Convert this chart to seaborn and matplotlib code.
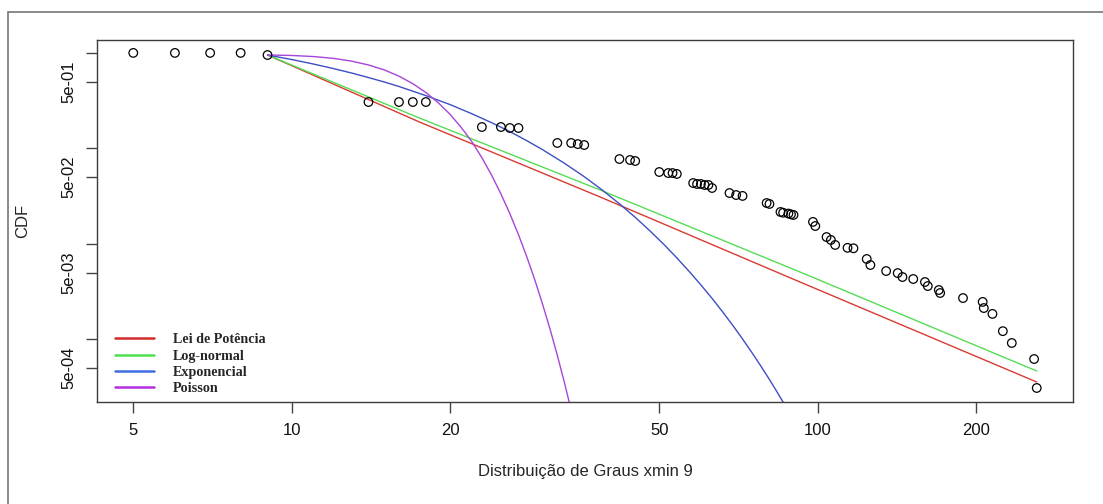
import matplotlib
matplotlib.use("Agg")
import matplotlib.pyplot as plt
from matplotlib.lines import Line2D
from matplotlib.ticker import NullLocator
import seaborn as sns

degree = [5, 6, 7, 8, 9,
          14, 16, 17, 18,
          23, 25, 26, 27,
          32, 34, 35, 36,
          42, 44, 45,
          50, 52, 53, 54,
          58, 59, 60, 61, 62, 63,
          68, 70, 72,
          80, 81,
          85, 86, 88, 89, 90,
          98, 99,
          104, 106, 108,
          114, 117,
          124, 126,
          135,
          142, 145,
          152,
          160, 162,
          170, 171,
          189,
          206, 207,
          215,
          225,
          234,
          258, 261]
ccdf = [1.0, 1.0, 1.0, 1.0, 0.95,
        0.306, 0.306, 0.306, 0.306,
        0.1675, 0.1675, 0.1635, 0.1635,
        0.114, 0.114, 0.111, 0.1085,
        0.0774, 0.0756, 0.0738,
        0.0566, 0.0552, 0.0552, 0.054,
        0.0434, 0.0424, 0.0424, 0.0414, 0.0414, 0.0385,
        0.0341, 0.0325, 0.0318,
        0.0268, 0.0262,
        0.0216, 0.0212, 0.0208, 0.0204, 0.0201,
        0.0170, 0.0154,
        0.0118, 0.0110, 0.00975,
        0.0091, 0.0090,
        0.00695, 0.00601,
        0.0052,
        0.00495, 0.0045,
        0.00429,
        0.00399, 0.00362,
        0.00329, 0.00306,
        0.00271,
        0.00247, 0.00213,
        0.00185,
        0.00122,
        0.000917,
        0.000623, 0.00031]

# fitted curves, points
pl_x = [9, 17.5, 38.6, 92.6, 261]
pl_y = [0.95, 0.189, 0.031, 0.00399, 0.000358]
ln_x = [9, 17.5, 38.6, 92.6, 261]
ln_y = [0.95, 0.208, 0.0367, 0.00508, 0.000467]
exp_x = [9, 10, 11, 12, 13, 14, 15, 16, 18, 20, 22, 24, 26, 28, 30, 33, 36,
         39, 42, 45, 48, 51, 54, 57, 60, 63, 66, 69, 72, 75, 78, 81, 84, 87, 90]
exp_y = [0.95, 0.853, 0.765, 0.686, 0.616, 0.552, 0.496, 0.445, 0.357, 0.288,
         0.231, 0.186, 0.150, 0.1205, 0.0970, 0.0700, 0.0506, 0.0365, 0.0263,
         0.0190, 0.0137, 0.0099, 0.00714, 0.00515, 0.00372, 0.00269, 0.00194,
         0.00140, 0.00101, 0.000729, 0.000526, 0.000380, 0.000274, 0.000198,
         0.000143]
pois_x = [9, 10, 11, 12, 13, 14, 15, 16, 17, 18, 19, 20, 21, 22, 23, 24, 25,
          26, 27, 28, 29, 30, 31, 32, 33, 34, 35]
pois_y = [0.951, 0.940, 0.916, 0.877, 0.820, 0.748, 0.664, 0.571, 0.476,
          0.385, 0.301, 0.228, 0.1667, 0.1183, 0.0800, 0.0525, 0.0334, 0.0207,
          0.01247, 0.00733, 0.00420, 0.00234, 0.00128, 0.000682, 0.000356,
          0.000182, 0.0000908]

model_names = ["Lei de Potência", "Log-normal", "Exponencial", "Poisson"]
line_colors = ["#d93a32", "#55dd55", "#3d4fc4", "#a745d8"]
legend_colors = ["#d42a2a", "#4fe04f", "#3d6fe0", "#b42fe0"]

xticks = [5, 10, 20, 50, 100, 200]
yticks = [1, 0.5, 0.1, 0.05, 0.01, 0.005, 0.001, 0.0005]
ytick_labels = ["", "5e-01", "", "5e-02", "", "5e-03", "", "5e-04"]

sns.set_style("white")
plt.rcParams["font.family"] = ["Liberation Sans", "DejaVu Sans"]

W, H = 1103, 504
fig = plt.figure(figsize=(W / 100, H / 100), dpi=100)
ax = fig.add_axes([97 / W, 1 - 402 / H, 976 / W, 362 / H])

curves = [(pl_x, pl_y), (ln_x, ln_y), (exp_x, exp_y), (pois_x, pois_y)]
for (cx, cy), col in zip(curves, line_colors):
    sns.lineplot(x=cx, y=cy, ax=ax, color=col, lw=1.0, sort=False,
                 estimator=None, zorder=2)

sns.scatterplot(x=degree, y=ccdf, ax=ax, s=38, marker="o",
                facecolor="none", edgecolor="black", linewidth=0.9, zorder=3)

ax.set_xscale("log")
ax.set_yscale("log")
ax.set_xlim(4.266, 305.9)
ax.set_ylim(2.211e-4, 1.365)

ax.set_xticks(xticks)
ax.set_xticklabels([str(t) for t in xticks])
ax.set_yticks(yticks)
ax.set_yticklabels(ytick_labels, rotation=90, va="center")
ax.xaxis.set_minor_locator(NullLocator())
ax.yaxis.set_minor_locator(NullLocator())
ax.tick_params(direction="out", length=8, width=1.0, color="#444444",
               labelsize=12, labelcolor="#111111")
ax.tick_params(axis="x", pad=7)
ax.tick_params(axis="y", pad=7)
ax.tick_params(left=True, bottom=True)

for sp in ax.spines.values():
    sp.set_visible(True)
    sp.set_color("#3c3c3c")
    sp.set_linewidth(1.0)

ax.set_xlabel("Distribuição de Graus xmin 9", fontsize=12)
ax.set_ylabel("CDF", fontsize=12)
ax.xaxis.set_label_coords(0.5, -0.172)
ax.yaxis.set_label_coords(-0.069, 0.5)

handles = [Line2D([], [], color=c, lw=1.8) for c in legend_colors]
ax.legend(handles, model_names, loc="lower left", bbox_to_anchor=(0.018, 0.02),
          frameon=False, handlelength=2.75, handletextpad=1.35, labelspacing=0.22,
          borderpad=0, borderaxespad=0,
          prop={"family": "Liberation Serif", "weight": "bold", "size": 10.2})

# outer frame of the original image
fig.add_artist(Line2D([8 / W, 8 / W], [0, 1 - 12 / H], transform=fig.transFigure,
                      color="#777777", lw=1.2))
fig.add_artist(Line2D([8 / W, 1], [1 - 12 / H, 1 - 12 / H], transform=fig.transFigure,
                      color="#777777", lw=1.2))

fig.savefig("out.png", dpi=100)
